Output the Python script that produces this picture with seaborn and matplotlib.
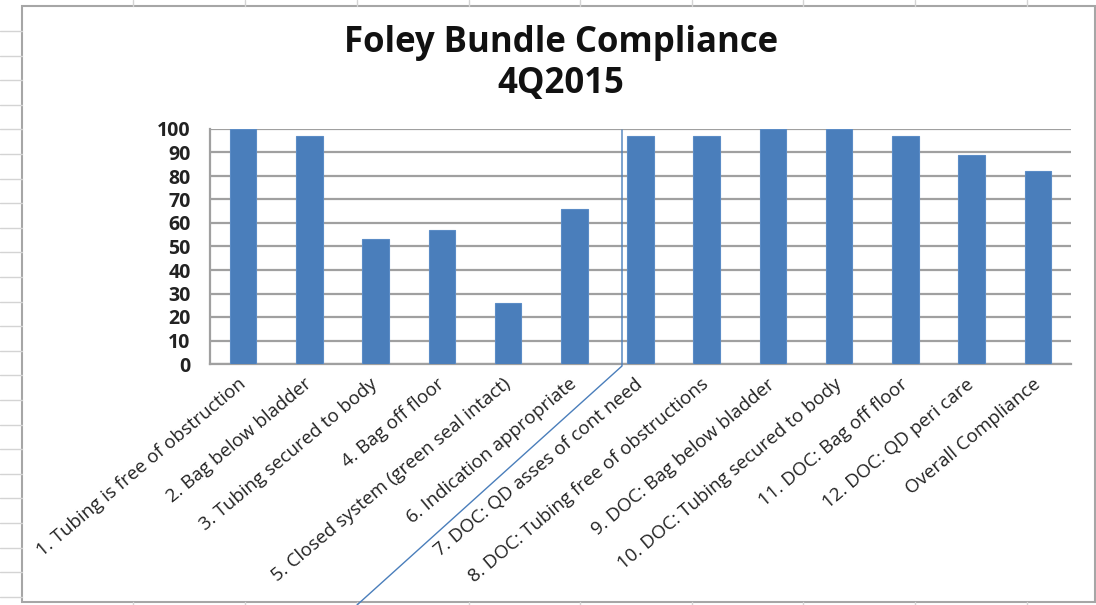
import matplotlib
matplotlib.use("Agg")
import matplotlib.pyplot as plt
import seaborn as sns
import pandas as pd
from matplotlib.lines import Line2D
from matplotlib.patches import Rectangle

# data
categories = [
    "1. Tubing is free of obstruction",
    "2. Bag below bladder",
    "3. Tubing secured to body",
    "4. Bag off floor",
    "5. Closed system (green seal intact)",
    "6. Indication appropriate",
    "7. DOC: QD asses of cont need",
    "8. DOC: Tubing free of obstructions",
    "9. DOC: Bag below bladder",
    "10. DOC: Tubing secured to body",
    "11. DOC: Bag off floor",
    "12. DOC: QD peri care",
    "Overall Compliance",
]
compliance = [100, 97, 53, 57, 26, 66, 97, 97, 100, 100, 97, 89, 82]
y_ticks = list(range(0, 101, 10))

df = pd.DataFrame({"item": categories, "pct": compliance})

sns.set_style("white")
plt.rcParams["font.family"] = ["Open Sans", "DejaVu Sans"]

W, H = 1096, 605
fig = plt.figure(figsize=(W / 100, H / 100), dpi=100)

# spreadsheet cells peeking out behind the chart object
cell_col = "#d4d4d4"
for x in [133, 245, 357, 469, 580, 692, 803, 915, 1027]:
    fig.add_artist(Line2D([x / W, x / W], [1, 1 - 6 / H], color=cell_col, lw=1))
    fig.add_artist(Line2D([x / W, x / W], [0, 3 / H], color=cell_col, lw=1))
for i in range(24):
    y = 31 + 24.6 * i
    fig.add_artist(Line2D([0, 22 / W], [1 - y / H, 1 - y / H], color=cell_col, lw=1))

# chart frame
fig.add_artist(Rectangle((22 / W, 1 - 602 / H), (1095 - 22) / W, (602 - 6) / H,
                         fill=False, edgecolor="#a6a6a6", lw=1.5))

ax = fig.add_axes([210 / W, 1 - 364 / H, (1071 - 210) / W, (364 - 129) / H])
sns.barplot(data=df, x="item", y="pct", color="#4a7ebb", width=0.4,
            saturation=1, edgecolor="#5b8cc6", linewidth=0.8, ax=ax, zorder=3)

ax.set_ylim(0, 100)
ax.set_yticks(y_ticks)
ax.set_xlim(-0.5, len(categories) - 0.5)
ax.yaxis.grid(True, color="#a0a0a0", lw=1.6, zorder=0)
ax.set_axisbelow(True)
for s in ["top", "right"]:
    ax.spines[s].set_visible(False)
ax.spines["left"].set_color("#a0a0a0")
ax.spines["bottom"].set_color("#a0a0a0")
ax.spines["left"].set_linewidth(1.6)
ax.spines["bottom"].set_linewidth(1.6)
ax.set_xlabel("")
ax.set_ylabel("")
ax.tick_params(axis="y", length=0, pad=14, labelsize=14)
ax.tick_params(axis="x", length=0, pad=13)
for t in ax.get_yticklabels():
    t.set_fontweight("bold")
    t.set_color("#222222")
ax.set_xticks(range(len(categories)))
ax.set_xticklabels(categories, rotation=40, ha="right", va="center",
                   rotation_mode="anchor", fontsize=13.5, color="#222222")

fig.text(561 / W, 1 - 43 / H, "Foley Bundle Compliance", ha="center", va="center",
         fontsize=25, fontweight="bold", color="#111111")
fig.text(561 / W, 1 - 84 / H, "4Q2015", ha="center", va="center",
         fontsize=25, fontweight="bold", color="#111111")

# hand-drawn connector line
fig.add_artist(Line2D([622 / W, 622 / W, 357 / W], [1 - 130 / H, 1 - 366 / H, 1 - 605 / H],
                      color="#4a7ebb", lw=1))

fig.savefig("out.png", dpi=100)
